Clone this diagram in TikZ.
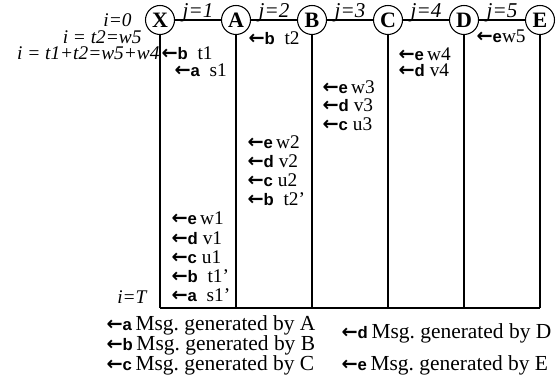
\documentclass[tikz,border=0pt]{standalone}
\usepackage{fontspec}
\setmainfont{Liberation Serif}
\setsansfont{Liberation Sans}
\newfontfamily\arrowfont{DejaVu Sans}
\newcommand{\msgfrom}[1]{{\bfseries\fontsize{11}{11}\selectfont\arrowfont ←\fontsize{9.5}{10}\selectfont\sffamily #1}}
\tikzset{
  station/.style={draw, circle, minimum size=0.58cm, inner sep=0pt,
    font=\fontsize{12.5}{12.5}\selectfont\bfseries},
  jlab/.style={inner sep=0pt, font=\fontsize{12}{12}\selectfont\itshape},
  ilab/.style={left, inner sep=0pt, font=\fontsize{11}{11}\selectfont\itshape},
  msg/.style={right, inner sep=0pt, font=\fontsize{11}{11}\selectfont},
  legend/.style={right, inner sep=0pt, font=\fontsize{12.2}{12.2}\selectfont}
}

\begin{document}
\begin{tikzpicture}[line width=0.6pt]
\useasboundingbox (0,0) rectangle (11.12,-7.66);
% stations
\node[station] (X) at (3.2,-0.4) {X};
\node[station] (A) at (4.72,-0.4) {A};
\node[station] (B) at (6.24,-0.4) {B};
\node[station] (C) at (7.76,-0.4) {C};
\node[station] (D) at (9.28,-0.4) {D};
\node[station] (E) at (10.8,-0.4) {E};
\coordinate (bX) at (3.2,-6.16);
\coordinate (bA) at (4.72,-6.16);
\coordinate (bB) at (6.24,-6.16);
\coordinate (bC) at (7.76,-6.16);
\coordinate (bD) at (9.28,-6.16);
\coordinate (bE) at (10.8,-6.16);
\draw (X)--(A)--(B)--(C)--(D)--(E);
\draw (X)--(bX);
\draw (A)--(bA);
\draw (B)--(bB);
\draw (C)--(bC);
\draw (D)--(bD);
\draw (E)--(bE);
\draw (bX)--(bE);
% hop labels
\node[jlab] (j1) at (3.96,-0.26) {j=1};
\node[jlab] (j2) at (5.48,-0.26) {j=2};
\node[jlab] (j3) at (7.0,-0.26) {j=3};
\node[jlab] (j4) at (8.52,-0.26) {j=4};
\node[jlab] (j5) at (10.04,-0.26) {j=5};
% time labels
\node[ilab] (i0) at (2.64,-0.4) {i=0};
\node[ilab] (i1) at (2.84,-0.74) {i = t2=w5};
\node[ilab] (i2) at (3.2,-1.07) {i = t1+t2=w5+w4};
\node[ilab] (iT) at (2.94,-5.94) {i=T};
% messages on X--A
\node[msg] (t1) at (3.22,-1.07) {\msgfrom{b}\ \ t1};
\node[msg] (s1) at (3.48,-1.41) {\msgfrom{a}\ \ s1};
\node[msg] (w1) at (3.42,-4.36) {\msgfrom{e}\,w1};
\node[msg] (v1) at (3.42,-4.76) {\msgfrom{d}\ v1};
\node[msg] (u1) at (3.42,-5.14) {\msgfrom{c}\ u1};
\node[msg] (t1p) at (3.42,-5.52) {\msgfrom{b}\ \ t1’};
\node[msg] (s1p) at (3.42,-5.9) {\msgfrom{a}\ \ s1’};
% messages on A--B
\node[msg] (t2) at (4.96,-0.76) {\msgfrom{b}\ \ t2};
\node[msg] (w2) at (4.94,-2.84) {\msgfrom{e}\,w2};
\node[msg] (v2) at (4.94,-3.22) {\msgfrom{d}\ v2};
\node[msg] (u2) at (4.94,-3.6) {\msgfrom{c}\ u2};
\node[msg] (t2p) at (4.94,-3.98) {\msgfrom{b}\ \ t2’};
% messages on B--C
\node[msg] (w3) at (6.44,-1.74) {\msgfrom{e}\,w3};
\node[msg] (v3) at (6.44,-2.1) {\msgfrom{d}\ v3};
\node[msg] (u3) at (6.44,-2.48) {\msgfrom{c}\ u3};
% messages on C--D
\node[msg] (w4) at (7.96,-1.08) {\msgfrom{e}\,w4};
\node[msg] (v4) at (7.96,-1.41) {\msgfrom{d}\ v4};
% messages on D--E
\node[msg] (w5) at (9.52,-0.72) {\msgfrom{e}w5};
% legend
\node[legend] (la) at (2.12,-6.5) {\msgfrom{a}\,Msg.\ generated by A};
\node[legend] (lb) at (2.12,-6.9) {\msgfrom{b}\,Msg.\ generated by B};
\node[legend] (lc) at (2.12,-7.3) {\msgfrom{c}\,Msg.\ generated by C};
\node[legend] (ld) at (6.82,-6.66) {\msgfrom{d}\,Msg.\ generated by D};
\node[legend] (le) at (6.82,-7.3) {\msgfrom{e}\,Msg.\ generated by E};
\end{tikzpicture}
\end{document}
